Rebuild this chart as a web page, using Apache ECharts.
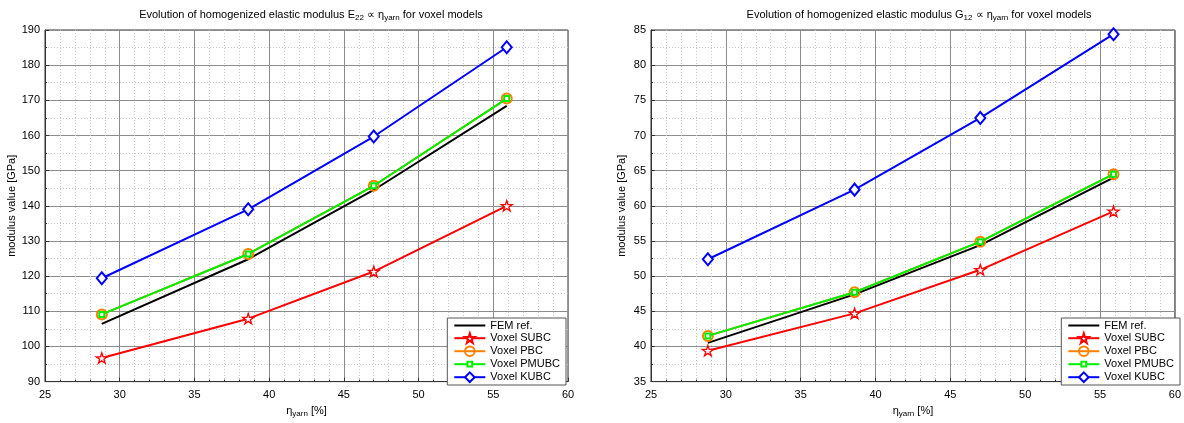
<!DOCTYPE html>
<html>
<head>
<meta charset="utf-8">
<script src="https://cdn.jsdelivr.net/npm/echarts@6/dist/echarts.min.js"></script>
<style>
html,body{margin:0;padding:0;background:#fff;}
#c{width:1184px;height:423px;}
</style>
</head>
<body>
<div id="c"></div>
<script>
// ---- data ----
const etaYarn = [28.8, 38.6, 47.0, 55.9];
const seriesNames = ['FEM ref.', 'Voxel SUBC', 'Voxel PBC', 'Voxel PMUBC', 'Voxel KUBC'];
// E22 [GPa]
const e22Fem   = [106.4, 124.8, 144.5, 168.4];
const e22Subc  = [96.7, 107.9, 121.3, 140.0];
const e22Pbc   = [109.1, 126.3, 145.7, 170.5];
const e22Pmubc = [109.1, 126.3, 145.7, 170.5];
const e22Kubc  = [119.4, 139.0, 159.7, 185.1];
// G12 [GPa]
const g12Fem   = [40.5, 47.4, 54.4, 64.0];
const g12Subc  = [39.4, 44.7, 50.9, 59.2];
const g12Pbc   = [41.5, 47.7, 54.9, 64.5];
const g12Pmubc = [41.5, 47.7, 54.9, 64.5];
const g12Kubc  = [52.4, 62.3, 72.5, 84.4];
const xTicks = [25, 30, 35, 40, 45, 50, 55, 60];
const e22Ticks = [90, 100, 110, 120, 130, 140, 150, 160, 170, 180, 190];
const g12Ticks = [35, 40, 45, 50, 55, 60, 65, 70, 75, 80, 85];

const FONT = 'Liberation Sans, Arial, Helvetica, sans-serif';
const STAR = 'path://M0,-10L2.245,-3.09L9.51,-3.09L3.633,1.18L5.88,8.09L0,3.82L-5.88,8.09L-3.633,1.18L-9.51,-3.09L-2.245,-3.09Z';
// small square inside an invisible larger box (so legend icon stays small)
const SMALLSQ = 'path://M-4,-4L-4,-4M4,4L4,4M-2,-2L2,-2L2,2L-2,2Z';

const styles = [
  {color:'#000000', symbol:'none', size:0, fill:'#fff', bw:0},
  {color:'#ff0000', symbol:STAR, size:11, fill:'#ffffff', bw:1.3},
  {color:'#ff8000', symbol:'circle', size:10, fill:'rgba(0,0,0,0)', bw:2},
  {color:'#00ee00', symbol:SMALLSQ, size:10, fill:'#ffffff', bw:2},
  {color:'#0000ff', symbol:'diamond', size:[10,12], fill:'#ffffff', bw:2}
];

function pairs(xs, ys){ return xs.map((x,i)=>[x, ys[i]]); }

function makeSeries(gi, arrs){
  return arrs.map((ys, k)=>{
    const s = styles[k];
    return {
      name: seriesNames[k], type:'line', xAxisIndex:gi, yAxisIndex:gi,
      data: pairs(etaYarn, ys),
      symbol: s.symbol, symbolSize: s.size, symbolKeepAspect:true,
      showSymbol: s.symbol !== 'none',
      lineStyle:{color:s.color, width:2},
      itemStyle:{color:s.fill, borderColor:s.color, borderWidth:s.bw},
      emphasis:{disabled:true}, animation:false, z: 2 + k
    };
  });
}

function xAxisDef(gi){
  return {
    type:'value', gridIndex:gi, min:xTicks[0], max:xTicks[xTicks.length-1], interval:5,
    name:'η{s|yarn} [%]', nameLocation:'middle', nameGap:22,
    nameTextStyle:{fontFamily:FONT, fontSize:11, color:'#000', rich:{s:{fontSize:8, fontFamily:FONT, padding:[6,0,0,0]}}},
    axisLine:{show:true, onZero:false, lineStyle:{color:'#333', width:1}},
    axisTick:{show:true, inside:true, length:4, lineStyle:{color:'#333'}},
    minorTick:{show:true, splitNumber:5, length:2, lineStyle:{color:'#333'}},
    axisLabel:{fontFamily:FONT, fontSize:11, color:'#000', margin:8},
    splitLine:{show:true, lineStyle:{color:'#8c8c8c', width:1, type:'solid'}},
    minorSplitLine:{show:true, lineStyle:{color:'#c4c4c4', width:1, type:[1,2]}}
  };
}
function yAxisDef(gi, ticks, interval){
  return {
    type:'value', gridIndex:gi, min:ticks[0], max:ticks[ticks.length-1], interval:interval,
    name:'modulus value [GPa]', nameLocation:'middle', nameGap:24,
    nameTextStyle:{fontFamily:FONT, fontSize:11, color:'#000'},
    axisLine:{show:true, onZero:false, lineStyle:{color:'#333', width:1}},
    axisTick:{show:true, inside:true, length:4, lineStyle:{color:'#333'}},
    minorTick:{show:true, splitNumber:2, length:2, lineStyle:{color:'#333'}},
    axisLabel:{fontFamily:FONT, fontSize:11, color:'#000', margin:5},
    splitLine:{show:true, lineStyle:{color:'#8c8c8c', width:1, type:'solid'}},
    minorSplitLine:{show:true, lineStyle:{color:'#c4c4c4', width:1, type:[1,2]}}
  };
}
function legendDef(right){
  return {
    data: seriesNames.map((n, k)=> k === 0
      ? {name:n, itemStyle:{color:'rgba(0,0,0,0)', borderColor:'rgba(0,0,0,0)', borderWidth:0, opacity:0}}
      : {name:n}),
    orient:'vertical', right:right, bottom:38,
    itemWidth:31, itemHeight:12, itemGap:1.4,
    padding:[2,6,2,6],
    backgroundColor:'#fff', borderColor:'#555', borderWidth:1, borderRadius:0,
    textStyle:{fontFamily:FONT, fontSize:11, color:'#000'},
    selectedMode:false
  };
}
const titleRich = {s:{fontSize:8, fontFamily:FONT, padding:[6,0,0,0]}};

const option = {
  backgroundColor:'#fff',
  animation:false,
  title:[
    {text:'Evolution of homogenized elastic modulus E{s|22} ∝ η{s|yarn} for voxel models', left:306, top:3, textAlign:'center',
     textStyle:{fontFamily:FONT, fontSize:11, fontWeight:'normal', color:'#000', rich:titleRich}},
    {text:'Evolution of homogenized elastic modulus G{s|12} ∝ η{s|yarn} for voxel models', left:914, top:3, textAlign:'center',
     textStyle:{fontFamily:FONT, fontSize:11, fontWeight:'normal', color:'#000', rich:titleRich}}
  ],
  grid:[
    {left:45, top:30, width:523, height:360, show:true, borderColor:'#333', borderWidth:1, backgroundColor:'#fff'},
    {left:651, top:30, width:527, height:360, show:true, borderColor:'#333', borderWidth:1, backgroundColor:'#fff'}
  ],
  xAxis:[xAxisDef(0), xAxisDef(1)],
  yAxis:[yAxisDef(0, e22Ticks, 10), yAxisDef(1, g12Ticks, 5)],
  legend:[legendDef(618), legendDef(4)],
  series:[].concat(
    makeSeries(0, [e22Fem, e22Subc, e22Pbc, e22Pmubc, e22Kubc]),
    makeSeries(1, [g12Fem, g12Subc, g12Pbc, g12Pmubc, g12Kubc])
  )
};
const chart = echarts.init(document.getElementById('c'), null, {renderer:'canvas'});
chart.setOption(option);
</script>
</body>
</html>
